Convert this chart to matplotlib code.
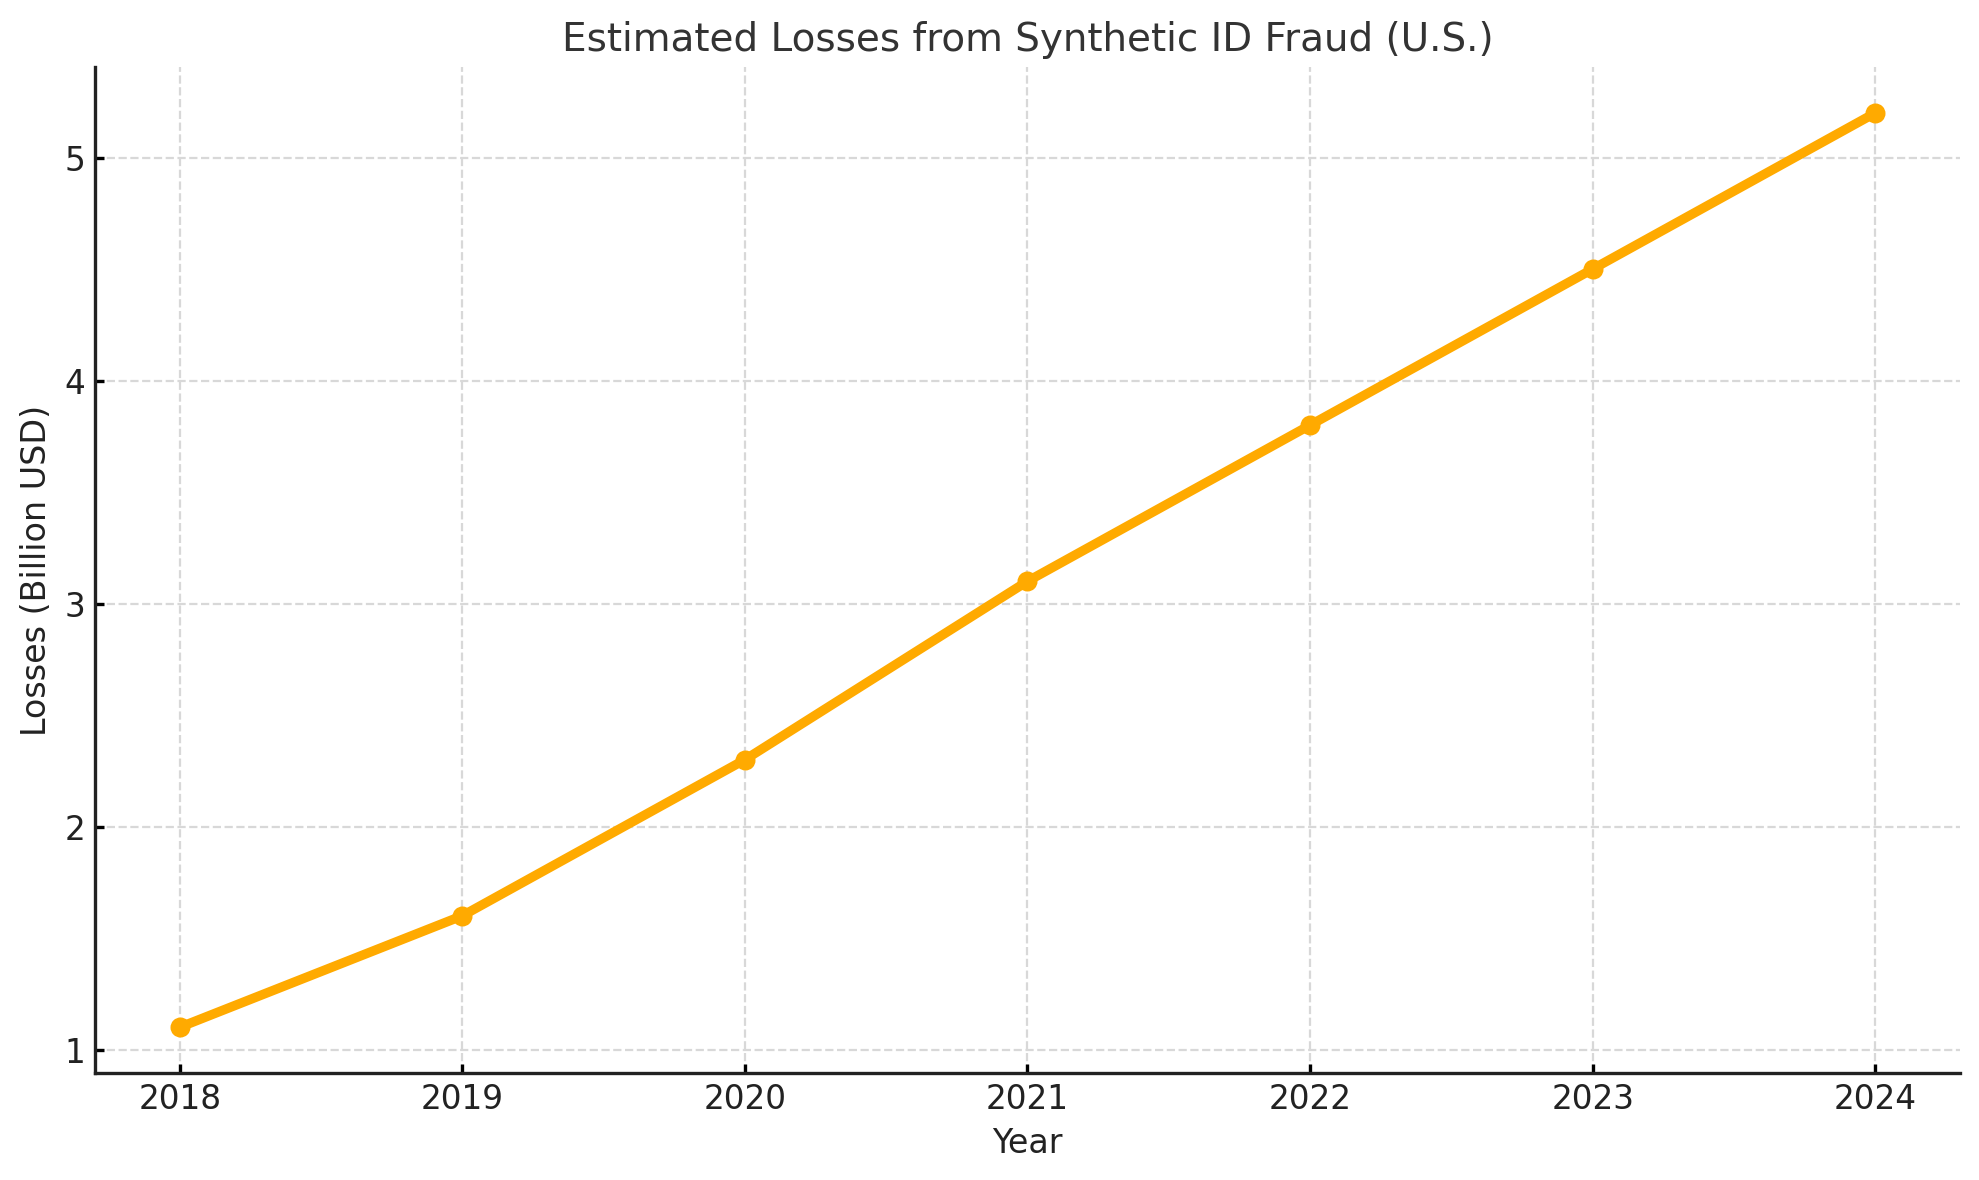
import matplotlib
matplotlib.use("Agg")
import matplotlib.pyplot as plt

years = [2018, 2019, 2020, 2021, 2022, 2023, 2024]
losses = [1.1, 1.6, 2.3, 3.1, 3.8, 4.5, 5.2]

fig, ax = plt.subplots(figsize=(9.895, 5.9), dpi=200)
fig.subplots_adjust(left=0.048, right=0.9904, bottom=0.0907, top=0.943)
ax.plot(years, losses, marker='o', color='#FFAA00', linewidth=3.4, markersize=6.2)
ax.set_title("Estimated Losses from Synthetic ID Fraud (U.S.)", fontsize=14, color='#333333')
ax.set_xlabel("Year", fontsize=12, color='#222222')
ax.set_ylabel("Losses (Billion USD)", fontsize=12, color='#222222')
ax.set_xticks(years)
ax.tick_params(labelsize=11.8, labelcolor='#222222', width=1.2, length=3.2, direction='in')
ax.grid(True, linestyle='--', color='#d8d8d8', linewidth=0.8)
ax.spines['top'].set_visible(False)
ax.spines['right'].set_visible(False)
for s in ('left', 'bottom'):
    ax.spines[s].set_linewidth(1.2)
    ax.spines[s].set_color('#222222')
fig.savefig("out.png", dpi=200)
